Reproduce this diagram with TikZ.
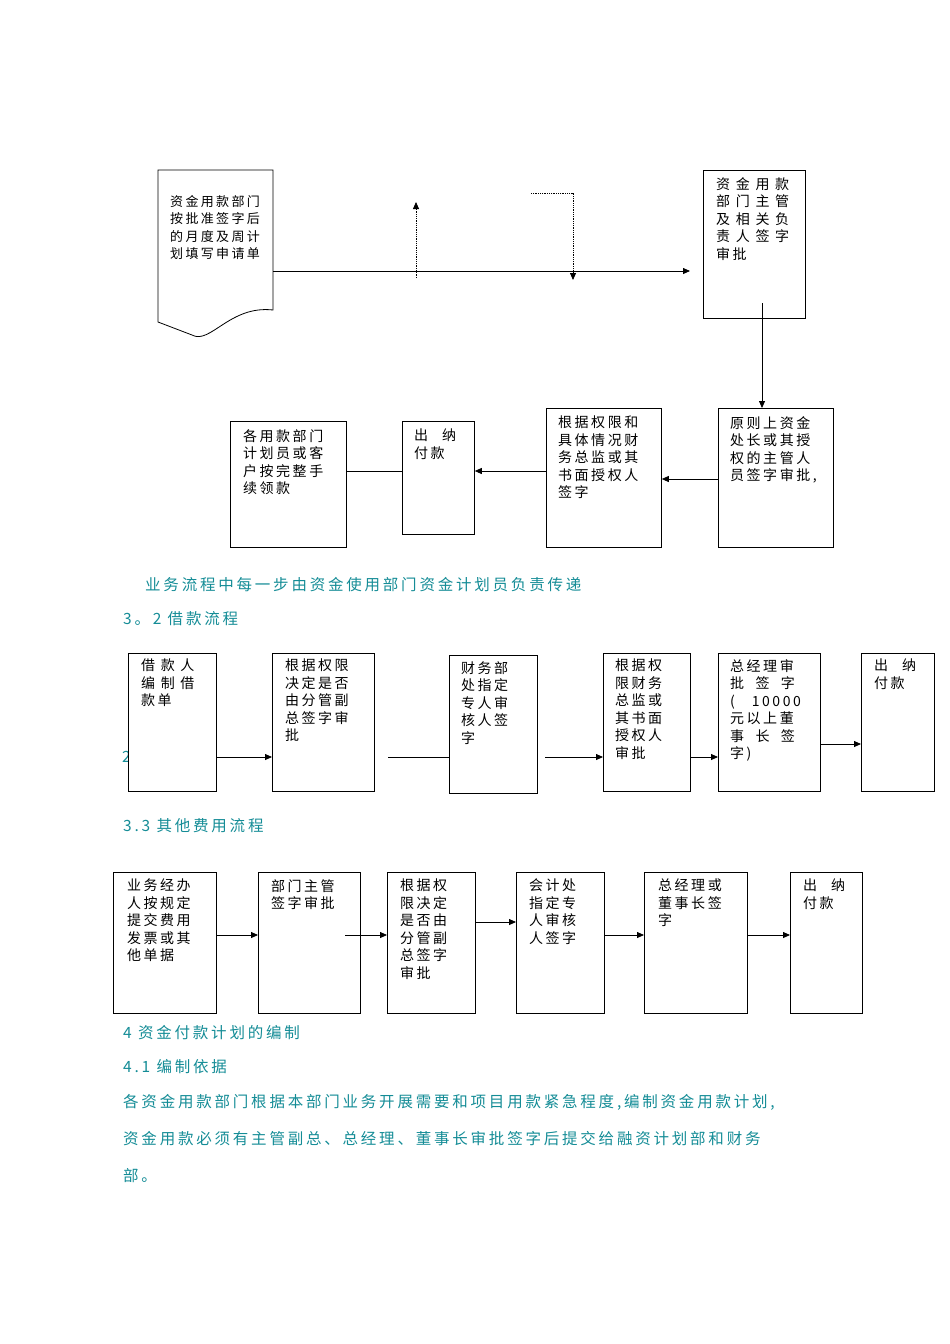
\documentclass[tikz,border=0pt]{standalone}
\usepackage{fontspec}
\setmainfont{Noto Sans CJK SC}
\newfontfamily\spf[LetterSpace=18]{Noto Sans CJK SC}
\usetikzlibrary{arrows.meta}
\definecolor{tl}{RGB}{20,140,150}
\tikzset{
 bx/.style={draw,thick,fill=white},
 bt/.style={anchor=north west,align=left,font=\spf\fontsize{14}{17.5}\selectfont,inner sep=0pt},
 ar/.style={thick,-{Triangle[length=7pt,width=6pt]}},
 ln/.style={thick},
 captxt/.style={anchor=west,text=tl,font=\spf\fontsize{15.5}{18}\selectfont,inner sep=0pt}
}
\begin{document}
\begin{tikzpicture}[x=1pt,y=-1pt]
\useasboundingbox (0,0) rectangle (950,1344);
% top section
\draw[bx] (158,170) -- (273,170) -- (273,310) .. controls (230,305) and (210,345) .. (192,335) -- (158,322) -- cycle;
\coordinate (docr) at (273,271);
\node[bt,font=\spf\fontsize{13}{17.5}\selectfont] (t0) at (170,195) {资金用款部门\\按批准签字后\\的月度及周计\\划填写申请单};
\node[bx,minimum width=102pt,minimum height=148pt,anchor=north west] (A) at (703,170) {};
\node[bt] at (716,177) {资 金 用 款\\部 门 主 管\\及 相 关 负\\责 人 签 字\\审批};
\coordinate (ain) at (690,271);
\draw[ar] (docr) -- (ain);
\coordinate (u1) at (416,278); \coordinate (u2) at (416,202);
\draw[densely dotted,thick,-{Triangle[length=7pt,width=6pt]}] (u1) -- (u2);
\coordinate (d1) at (531,193); \coordinate (d2) at (573,193); \coordinate (d3) at (573,280);
\draw[densely dotted,thick,-{Triangle[length=7pt,width=6pt]}] (d1) -- (d2) -- (d3);
\node[bx,minimum width=115pt,minimum height=139pt,anchor=north west] (B) at (718,408) {};
\node[bt] at (730,416) {原则上资金\\处长或其授\\权的主管人\\员签字审批,};
\node[bx,minimum width=115pt,minimum height=139pt,anchor=north west] (C) at (546,408) {};
\node[bt] at (558,416) {根据权限和\\具体情况财\\务总监或其\\书面授权人\\签字};
\node[bx,minimum width=72pt,minimum height=113pt,anchor=north west] (D) at (402,421) {};
\node[bt] at (414,429) {出\quad 纳\\付款};
\node[bx,minimum width=116pt,minimum height=126pt,anchor=north west] (E) at (230,421) {};
\node[bt] at (243,429) {各用款部门\\计划员或客\\户按完整手\\续领款};
\coordinate (atop) at (762,303);
\draw[ar] (atop) -- (B.north -| atop);
\draw[ar] (B.west |- 0,479) -- (C.east |- 0,479);
\draw[ar] (C.west |- 0,471) -- (D.east |- 0,471);
\draw[ln] (D.west |- 0,471) -- (E.east |- 0,471);
\node[captxt] (c1) at (145,585) {业务流程中每一步由资金使用部门资金计划员负责传递};
\node[captxt] (c2) at (123,619) {3。2 借款流程};
% row 3.2
\node[captxt] (two) at (122,757) {2};
\node[bx,minimum width=88pt,minimum height=138pt,anchor=north west] (p1) at (128,653) {};
\node[bt] at (141,659) {借 款 人\\编 制 借\\款单};
\node[bx,minimum width=102pt,minimum height=138pt,anchor=north west] (p2) at (272,653) {};
\node[bt] at (285,659) {根据权限\\决定是否\\由分管副\\总签字审\\批};
\node[bx,minimum width=88pt,minimum height=138pt,anchor=north west] (p3) at (449,655) {};
\node[bt] at (461,661) {财务部\\处指定\\专人审\\核人签\\字};
\node[bx,minimum width=87pt,minimum height=138pt,anchor=north west] (p4) at (603,653) {};
\node[bt] at (615,659) {根据权\\限财务\\总监或\\其书面\\授权人\\审批};
\node[bx,minimum width=102pt,minimum height=138pt,anchor=north west] (p5) at (718,653) {};
\node[bt] at (730,659) {总经理审\\批\ \ 签\ \ 字\\(\ \ \ 10000\\元以上董\\事\ \ 长\ \ 签\\字)};
\node[bx,minimum width=73pt,minimum height=138pt,anchor=north west] (p6) at (861,653) {};
\node[bt] at (874,659) {出\quad 纳\\付款};
\draw[ar] (p1.east |- 0,757) -- (p2.west |- 0,757);
\coordinate (s1) at (388,757);
\draw[ln] (s1) -- (p3.west |- 0,757);
\coordinate (s2) at (545,757);
\draw[ar] (s2) -- (p4.west |- 0,757);
\draw[ar] (p4.east |- 0,757) -- (p5.west |- 0,757);
\draw[ar] (p5.east |- 0,744) -- (p6.west |- 0,744);
\node[captxt] (c3) at (123,826) {3.3 其他费用流程};
% row 3.3
\node[bx,minimum width=103pt,minimum height=141pt,anchor=north west] (q1) at (113,872) {};
\node[bt] at (127,879) {业务经办\\人按规定\\提交费用\\发票或其\\他单据};
\node[bx,minimum width=102pt,minimum height=141pt,anchor=north west] (q2) at (258,872) {};
\node[bt] at (271,879) {部门主管\\签字审批};
\node[bx,minimum width=88pt,minimum height=141pt,anchor=north west] (q3) at (387,872) {};
\node[bt] at (400,879) {根据权\\限决定\\是否由\\分管副\\总签字\\审批};
\node[bx,minimum width=88pt,minimum height=141pt,anchor=north west] (q4) at (516,872) {};
\node[bt] at (529,879) {会计处\\指定专\\人审核\\人签字};
\node[bx,minimum width=103pt,minimum height=141pt,anchor=north west] (q5) at (644,872) {};
\node[bt] at (658,879) {总经理或\\董事长签\\字};
\node[bx,minimum width=72pt,minimum height=141pt,anchor=north west] (q6) at (790,872) {};
\node[bt] at (803,879) {出\quad 纳\\付款};
\draw[ar] (q1.east |- 0,935) -- (q2.west |- 0,935);
\coordinate (s3) at (345,935);
\draw[ar] (s3) -- (q3.west |- 0,935);
\draw[ar] (q3.east |- 0,922) -- (q4.west |- 0,922);
\draw[ar] (q4.east |- 0,935) -- (q5.west |- 0,935);
\draw[ar] (q5.east |- 0,935) -- (q6.west |- 0,935);
\node[captxt] (c4) at (123,1033) {4 资金付款计划的编制};
\node[captxt] (c5) at (123,1067) {4.1 编制依据};
\node[captxt] (c6) at (123,1102) {各资金用款部门根据本部门业务开展需要和项目用款紧急程度,编制资金用款计划,};
\node[captxt] (c7) at (123,1139) {资金用款必须有主管副总、总经理、董事长审批签字后提交给融资计划部和财务};
\node[captxt] (c8) at (123,1176) {部。};
\end{tikzpicture}
\end{document}
